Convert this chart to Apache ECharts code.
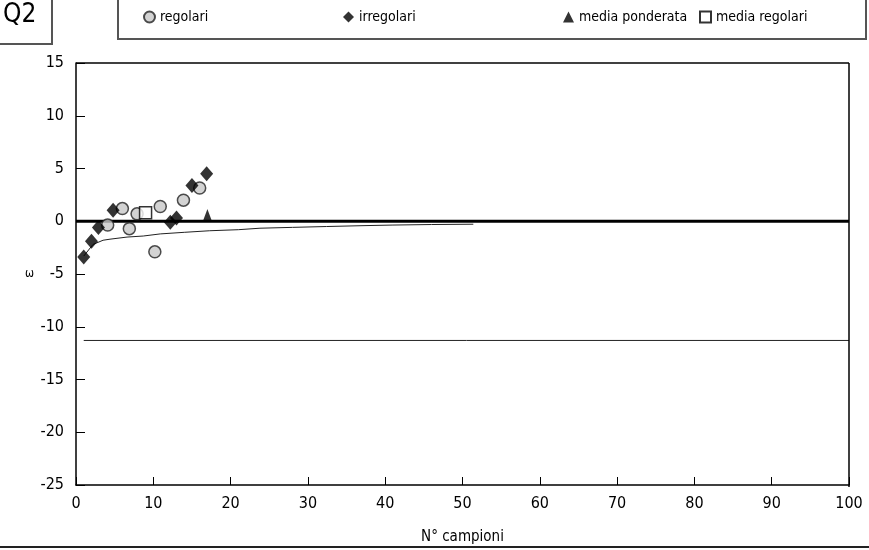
<!DOCTYPE html>
<html><head><meta charset="utf-8">
<script src="https://cdn.jsdelivr.net/npm/echarts@6/dist/echarts.min.js"></script>
<style>html,body{margin:0;padding:0;background:#fff}#c{width:869px;height:550px}</style>
</head><body><div id="c"></div>
<script>
var regolari = [[4.1,-0.35],[6.0,1.2],[6.9,-0.7],[7.9,0.7],[10.2,-2.9],[10.9,1.4],[13.9,2.0],[16.0,3.15]];
var irregolari = [[1,-3.4],[2,-1.9],[2.9,-0.6],[4.8,1.05],[12.2,-0.1],[13,0.3],[15,3.4],[16.9,4.5]];
var mediaPonderata = [[17,0.6]];
var mediaRegolari = [[9,0.8]];
var curva = [[1,-3.3],[2.2,-2.2],[3.5,-1.8],[4.4,-1.7],[6.6,-1.5],[8.7,-1.4],[10.9,-1.2],[14,-1.05],[17.3,-0.9],[21,-0.8],[23.8,-0.66],[28,-0.58],[32.4,-0.5],[37,-0.42],[41,-0.36],[46,-0.31],[51.4,-0.28]];
var lineaZero = [[0,0],[100,0]];
var lineaInf = [[1,-11.3],[100,-11.3]];
var xTicks = [0,10,20,30,40,50,60,70,80,90,100];
var yTicks = [-25,-20,-15,-10,-5,0,5,10,15];

var FONT = '"Liberation Sans Narrow","DejaVu Sans Condensed","Liberation Sans",sans-serif';
var chart = echarts.init(document.getElementById('c'));
function lg(name, left){
  return {data:[name], left:left, top:5, itemWidth:11, itemHeight:11, itemGap:5,
    textStyle:{fontFamily:FONT, fontSize:14, color:'#000'}};
}
chart.setOption({
  animation:false,
  backgroundColor:'#fff',
  graphic:[
    {type:'rect', shape:{x:-2,y:-2,width:54,height:46}, style:{fill:'#fff',stroke:'#555',lineWidth:2}},
    {type:'text', left:3, top:2, style:{text:'Q2', font:'26px '+FONT, fill:'#000'}},
    {type:'rect', shape:{x:118,y:-2,width:748,height:41}, style:{fill:'#fff',stroke:'#555',lineWidth:2}},
    {type:'line', shape:{x1:0,y1:547,x2:869,y2:547}, style:{stroke:'#222',lineWidth:2}},
    {type:'line', shape:{x1:76,y1:63,x2:849,y2:63}, style:{stroke:'#000',lineWidth:1.5}, z:10},
    {type:'line', shape:{x1:849,y1:63,x2:849,y2:487}, style:{stroke:'#000',lineWidth:1.5}, z:10}
  ],
  legend:[lg('regolari',138), lg('irregolari',338), lg('media ponderata',558), lg('media regolari',694)],
  grid:{left:76, right:20, top:63, bottom:63},
  xAxis:{type:'value', min:0, max:100, interval:10,
    name:'N° campioni', nameLocation:'middle', nameGap:45,
    nameTextStyle:{fontFamily:FONT, fontSize:15, color:'#000'},
    axisLine:{onZero:false, lineStyle:{color:'#000',width:1.5}},
    axisTick:{inside:true, length:8, lineStyle:{color:'#000'}},
    axisLabel:{fontFamily:FONT, fontSize:16, color:'#000', margin:11},
    splitLine:{show:false}},
  yAxis:{type:'value', min:-25, max:15, interval:5,
    name:'ω', nameLocation:'middle', nameGap:42, nameRotate:0,
    nameTextStyle:{fontFamily:FONT, fontSize:12, color:'#000'},
    axisLine:{lineStyle:{color:'#000',width:1.5}},
    axisTick:{inside:true, length:9, lineStyle:{color:'#000'}},
    axisLabel:{fontFamily:FONT, fontSize:16, color:'#000', margin:12},
    splitLine:{show:false}},
  series:[
    {name:'zero', type:'line', data:lineaZero, symbol:'none', lineStyle:{color:'#000',width:3}, z:2},
    {name:'inf', type:'line', data:lineaInf, symbol:'none', lineStyle:{color:'#222',width:1}, z:2},
    {name:'curva', type:'line', data:curva, symbol:'none', lineStyle:{color:'#222',width:1}, z:2},
    {name:'regolari', type:'scatter', data:regolari, symbol:'circle', symbolSize:12,
      itemStyle:{color:'#c8c8c8', borderColor:'#222', borderWidth:1.5}, z:4},
    {name:'irregolari', type:'scatter', data:irregolari, symbol:'diamond', symbolSize:[13,15],
      itemStyle:{color:'#000'}, z:5},
    {name:'media ponderata', type:'scatter', data:mediaPonderata, symbol:'triangle', symbolSize:[9,12],
      itemStyle:{color:'#000'}, z:5},
    {name:'media regolari', type:'scatter', data:mediaRegolari, symbol:'rect', symbolSize:12,
      itemStyle:{color:'#fff', borderColor:'#000', borderWidth:1.5}, z:6}
  ]
});
</script></body></html>
